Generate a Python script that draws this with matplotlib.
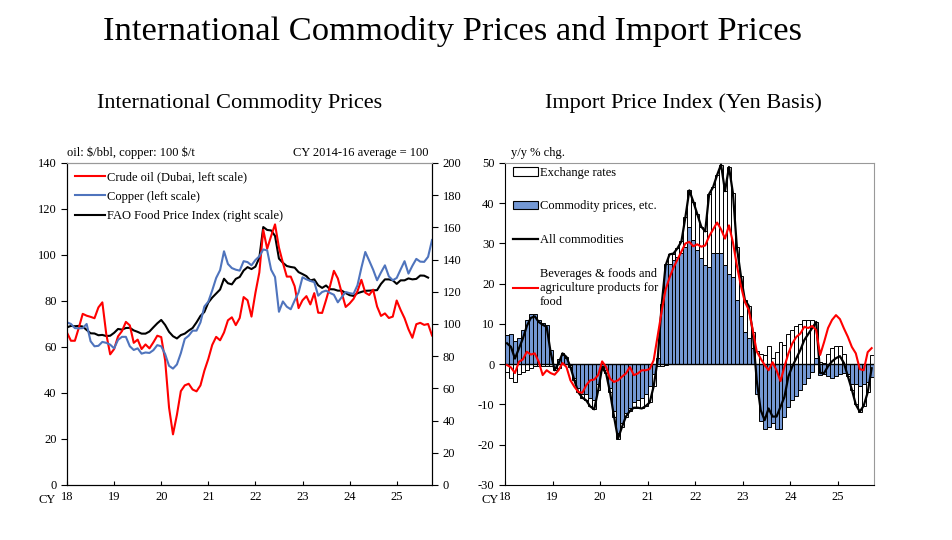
import numpy as np
import matplotlib
matplotlib.use("Agg")
import matplotlib.pyplot as plt
from matplotlib.patches import Patch
from matplotlib.lines import Line2D

plt.rcParams['font.family'] = ['Liberation Serif', 'DejaVu Serif']
plt.rcParams['axes.unicode_minus'] = False

# ---- left panel: monthly, Jan 2018 - Oct 2025
oil_dubai = [66.2, 62.7, 62.7, 68.3, 74.4, 73.6, 73.1, 72.5, 77.2, 79.4, 65.6, 56.8,
             59.1, 64.6, 66.9, 70.9, 69.4, 61.8, 63.2, 59.1, 61.1, 59.4, 62.0, 64.9,
             64.3, 54.2, 33.6, 22.0, 30.5, 40.8, 43.3, 44.0, 41.5, 40.7, 43.3, 49.7,
             54.8, 60.9, 64.4, 62.9, 66.3, 71.6, 72.9, 69.5, 72.6, 81.7, 80.3, 73.2,
             83.5, 92.4, 110.9, 102.7, 108.2, 113.3, 103.2, 96.6, 90.6, 90.6, 86.4, 76.9,
             80.3, 82.1, 78.5, 83.4, 74.9, 74.8, 80.4, 86.4, 93.1, 89.8, 83.5, 77.4,
             78.9, 80.9, 84.2, 89.2, 83.6, 82.6, 84.9, 77.6, 73.5, 74.6, 72.6, 73.2,
             80.2, 76.1, 72.5, 67.7, 64.0, 69.9, 70.5, 69.6, 70.0, 65.0]
copper = [70.7, 70.0, 68.2, 68.1, 68.2, 70.0, 62.5, 60.3, 60.5, 62.2, 61.8, 61.0,
          59.4, 63.1, 64.4, 64.4, 60.3, 58.7, 59.4, 57.1, 57.6, 57.4, 58.6, 60.8,
          60.3, 56.9, 51.8, 50.6, 52.4, 57.3, 63.5, 64.9, 67.1, 67.1, 70.7, 77.6,
          79.7, 84.6, 90.0, 93.4, 101.6, 96.1, 94.3, 93.6, 93.2, 97.3, 96.9, 95.5,
          97.8, 99.4, 102.4, 102.0, 93.6, 90.4, 75.3, 79.8, 77.5, 76.4, 80.2, 83.7,
          90.3, 89.4, 88.7, 88.2, 82.3, 83.9, 84.5, 83.5, 82.7, 79.4, 81.7, 83.9,
          83.4, 83.1, 86.8, 94.4, 101.3, 97.5, 93.6, 89.0, 92.4, 95.5, 90.7, 89.0,
          90.0, 93.7, 97.3, 91.9, 95.3, 98.3, 97.1, 97.0, 99.2, 106.5]
fao_food = [97.9, 98.8, 98.6, 98.8, 98.4, 96.3, 94.2, 94.1, 93.0, 93.2, 92.5, 92.7,
            94.5, 96.9, 96.5, 97.5, 97.6, 96.0, 95.1, 94.0, 94.0, 95.3, 97.9, 100.4,
            102.5, 99.4, 95.1, 92.4, 91.0, 93.1, 94.0, 95.9, 97.5, 101.0, 105.0, 107.5,
            113.3, 116.4, 118.9, 121.4, 128.1, 125.3, 124.6, 128.0, 129.2, 133.2, 135.3, 134.1,
            135.6, 141.1, 160.2, 158.4, 158.1, 154.7, 140.6, 138.0, 136.0, 135.4, 135.0, 132.2,
            131.0, 129.7, 127.0, 127.7, 124.0, 122.4, 123.9, 121.6, 121.5, 120.7, 120.7, 119.2,
            117.9, 117.4, 119.1, 119.9, 120.6, 120.7, 120.9, 121.0, 124.9, 127.7, 127.7, 127.1,
            124.9, 127.1, 127.1, 128.3, 127.7, 128.0, 130.1, 130.0, 128.8]

# ---- right panel: y/y % chg, Jan 2018 - Sep 2025
exch_rate = [-2.0, -3.3, -4.4, -2.5, -2.0, -1.5, -1.0, -0.5, -0.5, -0.5, -0.5, -0.5,
             -0.5, -1.0, 0.5, 0.3, -0.5, -0.5, -1.0, -1.0, -1.5, -2.0, -2.2, -1.5,
             -0.3, -0.8, -1.0, -1.5, -1.5, -1.1, -1.0, -0.6, -1.3, -1.8, -2.5, -2.9,
             -4.0, -3.0, -0.5, -0.5, -0.3, 2.3, 1.6, 2.1, 2.8, 7.3, 9.2, 9.6,
             8.9, 7.9, 8.4, 18.1, 16.3, 19.3, 21.9, 18.4, 26.5, 20.8, 13.1, 10.0,
             8.0, 8.0, 4.0, 3.3, 2.6, 2.3, 4.5, 1.5, 3.0, 5.4, 4.9, 7.6,
             8.5, 9.5, 10.0, 11.0, 11.0, 11.0, 9.0, 0.5, 0.3, 2.5, 4.0, 4.5,
             4.5, 2.5, -0.5, -1.5, -5.0, -6.3, -5.5, -2.5, 2.2]
commodity = [7.2, 7.6, 5.8, 6.4, 8.4, 11.0, 12.5, 12.4, 11.0, 10.3, 9.8, 3.5,
             -1.0, 1.2, 2.2, 1.5, -0.2, -3.5, -6.0, -7.3, -7.5, -8.5, -9.0, -5.0,
             -0.5, -1.5, -6.0, -11.5, -17.0, -14.5, -12.0, -11.0, -9.5, -9.0, -8.5, -7.5,
             -5.5, -2.5, 1.5, 15.0, 24.8, 25.0, 25.9, 26.7, 27.7, 29.2, 34.0, 30.8,
             28.4, 26.3, 24.6, 24.2, 27.7, 27.7, 27.7, 24.6, 22.5, 21.7, 15.9, 12.0,
             8.0, 6.5, 4.0, -7.3, -14.0, -16.2, -15.5, -14.5, -16.0, -16.0, -13.0, -10.6,
             -9.0, -8.0, -6.5, -5.0, -3.5, -2.0, 1.5, -2.7, -2.5, -3.0, -3.3, -3.0,
             -2.5, -2.2, -2.5, -4.8, -5.0, -5.5, -4.8, -4.5, -3.2]
all_commodities = [5.2, 4.3, 1.4, 3.9, 6.4, 9.5, 11.5, 11.9, 10.5, 9.8, 9.3, 3.0,
                   -1.5, 0.2, 2.7, 1.8, -0.7, -4.0, -7.0, -8.3, -9.0, -10.5, -11.2, -6.5,
                   -0.8, -2.3, -7.0, -13.0, -18.5, -15.6, -13.0, -11.6, -10.8, -10.8, -11.0, -10.4,
                   -9.5, -5.5, 1.0, 14.5, 24.5, 27.3, 27.5, 28.8, 30.5, 36.5, 43.2, 40.4,
                   37.3, 34.2, 33.0, 42.3, 44.0, 47.0, 49.6, 43.0, 49.0, 42.5, 29.0, 22.0,
                   16.0, 14.5, 8.0, -4.0, -11.4, -13.9, -11.0, -13.0, -13.0, -10.6, -8.1, -3.0,
                   -0.5, 1.5, 3.5, 6.0, 7.5, 9.0, 10.5, -2.2, -2.2, -0.5, 0.7, 1.5,
                   2.0, 0.3, -3.0, -6.3, -10.0, -11.8, -10.3, -7.0, -1.0]
bev_food = [-0.2, -0.8, -2.2, 0.6, 1.2, 3.1, 2.4, 2.7, 0.6, -2.7, -1.5, -2.2,
            -2.6, -1.5, 0.3, -0.7, -4.0, -5.6, -6.9, -7.1, -5.2, -4.0, -3.8, -2.7,
            0.7, -0.7, -3.6, -4.4, -4.0, -3.1, -2.3, -0.7, -2.7, -2.3, -1.5, -1.5,
            -1.2, 1.0, 7.0, 13.0, 18.5, 21.5, 24.0, 26.0, 28.0, 30.0, 30.4, 29.3,
            29.8, 29.2, 29.5, 31.8, 33.5, 35.2, 33.5, 31.2, 34.5, 30.3, 24.5, 19.5,
            15.5, 13.5, 8.5, 3.2, 1.4, -0.2, -1.5, 0.5, -1.5, -4.2, -0.6, 2.7,
            5.2, 6.8, 7.6, 9.3, 9.0, 9.5, 8.5, 2.3, 5.5, 9.0, 11.0, 12.2,
            11.2, 8.9, 6.8, 4.3, 2.7, -1.2, -1.5, 3.0, 4.0]

year_labels = ['18', '19', '20', '21', '22', '23', '24', '25']

fig = plt.figure(figsize=(9.52, 5.4), dpi=100)

fig.text(0.475, 0.941, 'International Commodity Prices and Import Prices',
         ha='center', va='center', fontsize=24.8)
fig.text(0.252, 0.809, 'International Commodity Prices', ha='center', va='center', fontsize=16)
fig.text(0.718, 0.809, 'Import Price Index (Yen Basis)', ha='center', va='center', fontsize=16)

fs = 9

# ---------------- left panel
ax1 = fig.add_axes([0.0704, 0.1019, 0.3834, 0.5963])
ax2 = ax1.twinx()
m = np.arange(len(oil_dubai))
l_oil, = ax1.plot(m, oil_dubai, color='#ff0000', lw=1.5)
l_cu, = ax1.plot(m, copper, color='#4f74bd', lw=1.5)
l_fao, = ax2.plot(np.arange(len(fao_food)), fao_food, color='black', lw=1.5)
ax1.set_zorder(ax2.get_zorder() + 1)
ax1.patch.set_visible(False)

ax1.set_xlim(0, len(oil_dubai) - 1)
ax1.set_ylim(0, 140)
ax2.set_ylim(0, 200)
ax1.set_yticks(np.arange(0, 141, 20))
ax2.set_yticks(np.arange(0, 201, 20))
ax1.set_xticks(np.arange(0, len(oil_dubai), 12))
ax1.set_xticklabels(year_labels)
ax1.tick_params(axis='y', direction='out', length=4, labelsize=fs)
ax2.tick_params(axis='y', direction='out', length=4, labelsize=fs)
ax1.tick_params(axis='x', direction='in', length=3, labelsize=fs, pad=4)
for a in (ax1, ax2):
    a.spines['top'].set_color('#999999')
    a.spines['right'].set_color('black')
ax1.text(0.0, 1.012, 'oil: \\$/bbl, copper: 100 \\$/t', transform=ax1.transAxes,
         ha='left', va='bottom', fontsize=fs)
ax1.text(0.99, 1.012, 'CY 2014-16 average = 100', transform=ax1.transAxes,
         ha='right', va='bottom', fontsize=fs)
fig.text(0.050, 0.074, 'CY', ha='center', va='center', fontsize=fs)

ax1.legend([l_oil, l_cu, l_fao],
           ['Crude oil (Dubai, left scale)', 'Copper (left scale)',
            'FAO Food Price Index (right scale)'],
           loc='upper left', bbox_to_anchor=(0.0, 0.998), frameon=False,
           fontsize=fs, handlelength=2.4, handletextpad=0.2, labelspacing=0.6,
           borderaxespad=0.2)

# ---------------- right panel
ax = fig.add_axes([0.5305, 0.1019, 0.3876, 0.5963])
n = len(commodity)
x = np.arange(n)
c = np.array(commodity)
e = np.array(exch_rate)
bottom_e = np.where(c * e >= 0, c, 0.0)
blue = '#7397d3'
ax.bar(x, c, width=1.0, color=blue, edgecolor='black', linewidth=0.7, zorder=2)
ax.bar(x, e, width=1.0, bottom=bottom_e, color='white', edgecolor='black',
       linewidth=0.7, zorder=2)
ax.axhline(0, color='black', lw=1.0, zorder=3)
ax.plot(x, all_commodities, color='black', lw=1.6, zorder=4)
ax.plot(x, bev_food, color='#ff0000', lw=1.5, zorder=5)

ax.set_xlim(-0.5, n - 0.4)
ax.set_ylim(-30, 50)
ax.set_yticks(np.arange(-30, 51, 10))
ax.set_xticks(np.arange(-0.5, n, 12))
ax.set_xticklabels(year_labels)
ax.tick_params(axis='y', direction='out', length=4, labelsize=fs)
ax.tick_params(axis='x', direction='in', length=3, labelsize=fs, pad=4)
ax.spines['top'].set_color('#999999')
ax.spines['right'].set_color('#999999')
ax.text(0.015, 1.012, 'y/y % chg.', transform=ax.transAxes, ha='left', va='bottom', fontsize=fs)
fig.text(0.515, 0.074, 'CY', ha='center', va='center', fontsize=fs)

handles = [Patch(facecolor='white', edgecolor='black', linewidth=0.8),
           Patch(facecolor=blue, edgecolor='black', linewidth=0.8),
           Line2D([], [], color='black', lw=1.6),
           Line2D([], [], color='#ff0000', lw=1.5)]
labels = ['Exchange rates', 'Commodity prices, etc.', 'All commodities',
          'Beverages & foods and\nagriculture products for\nfood']
ax.legend(handles, labels, loc='upper left', bbox_to_anchor=(0.0, 1.012), frameon=False,
          fontsize=fs, handlelength=2.0, handleheight=0.7, handletextpad=0.2,
          labelspacing=1.75, borderaxespad=0.2)

fig.savefig('out.png', dpi=100)
